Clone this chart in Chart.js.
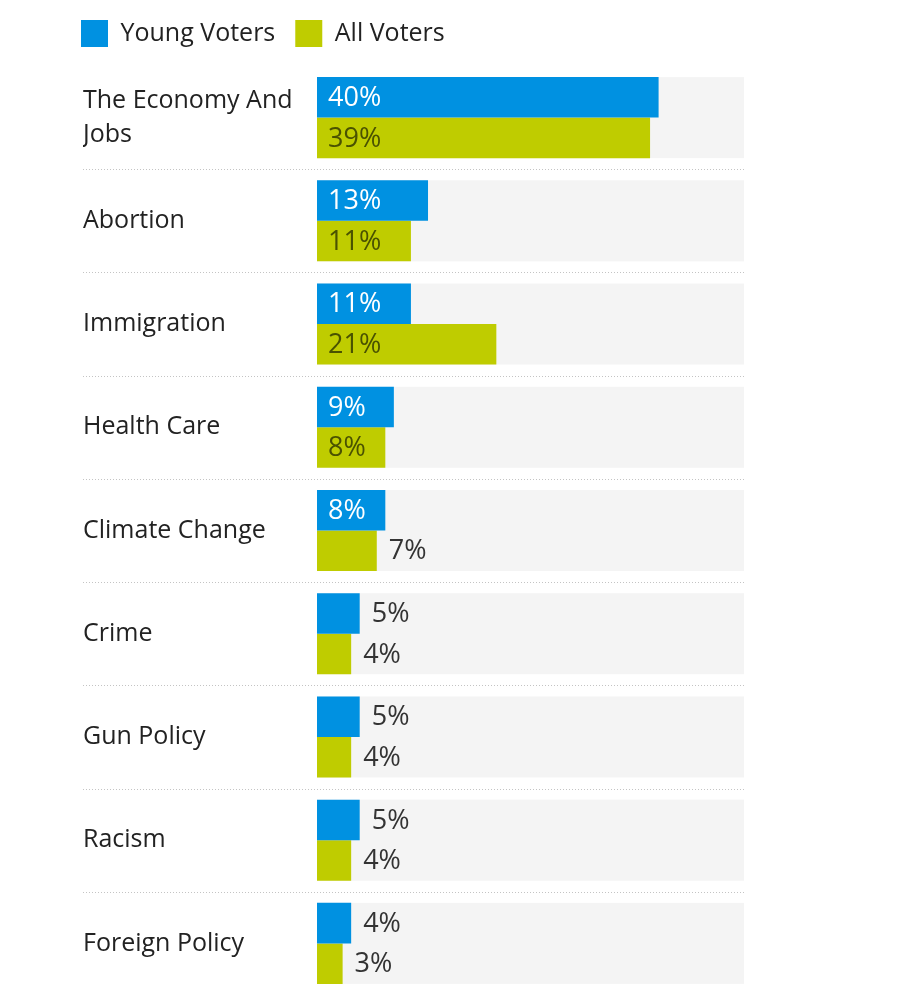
<!DOCTYPE html>
<html>
<head>
<meta charset="utf-8">
<script src="https://cdn.jsdelivr.net/npm/chart.js@4/dist/chart.umd.min.js"></script>
<style>
  html, body { margin: 0; padding: 0; background: #ffffff; }
  #wrap { width: 908px; height: 1000px; position: relative; }
</style>
</head>
<body>
<div id="wrap"><canvas id="c"></canvas></div>
<script>
const categories = [
  ["The Economy And", "Jobs"],
  "Abortion",
  "Immigration",
  "Health Care",
  "Climate Change",
  "Crime",
  "Gun Policy",
  "Racism",
  "Foreign Policy"
];
const seriesNames = ["Young Voters", "All Voters"];
const youngVoters = [40, 13, 11, 9, 8, 5, 5, 5, 4];
const allVoters = [39, 11, 21, 8, 7, 4, 4, 4, 3];
const axisMax = 50;

const BLUE = "#0091e1";
const GREEN = "#bfcc00";
const FONT = "'Open Sans', 'Noto Sans', sans-serif";

const backgroundPlugin = {
  id: "rowBackground",
  beforeDatasetsDraw(chart) {
    const { ctx, scales: { x, y } } = chart;
    const n = y.getLabels().length;
    const band = (y.bottom - y.top) / n;
    const h = band * 0.785;
    ctx.save();
    ctx.fillStyle = "#f4f4f4";
    for (let i = 0; i < n; i++) {
      const cy = y.getPixelForValue(i);
      const x0 = x.getPixelForValue(0);
      const x1 = x.getPixelForValue(axisMax);
      ctx.fillRect(x0, cy - h / 2, x1 - x0, h);
    }
    ctx.strokeStyle = "#c4c4c4";
    ctx.lineWidth = 1;
    ctx.setLineDash([1, 2]);
    for (let i = 0; i < n - 1; i++) {
      const yy = Math.round(y.getPixelForValue(i) + band / 2) + 0.5;
      ctx.beginPath();
      ctx.moveTo(83, yy);
      ctx.lineTo(x.getPixelForValue(axisMax), yy);
      ctx.stroke();
    }
    ctx.restore();
  }
};

const labelPlugin = {
  id: "valueLabels",
  afterDatasetsDraw(chart) {
    const { ctx } = chart;
    ctx.save();
    ctx.font = "27px " + FONT;
    ctx.textBaseline = "middle";
    ctx.textAlign = "left";
    chart.data.datasets.forEach((ds, di) => {
      const meta = chart.getDatasetMeta(di);
      meta.data.forEach((bar, i) => {
        const txt = ds.data[i] + "%";
        const w = ctx.measureText(txt).width;
        const barW = bar.x - bar.base;
        if (w + 24 <= barW) {
          ctx.fillStyle = di === 0 ? "#ffffff" : "#4a5200";
          ctx.fillText(txt, bar.base + 11, bar.y + 1);
        } else {
          ctx.fillStyle = "#333333";
          ctx.fillText(txt, bar.x + 12, bar.y + 1);
        }
      });
    });
    ctx.restore();
  }
};

const layoutPlugin = {
  id: "layoutTweaks",
  beforeUpdate(chart) {
    const lg = chart.legend;
    if (lg && !lg._patched) {
      const origFit = lg.fit;
      lg.fit = function () {
        origFit.call(this);
        this.height = 66;
      };
      lg._patched = true;
    }
  },
  afterLayout(chart) {
    chart.scales.y.left = 83;
  }
};

new Chart(document.getElementById("c"), {
  type: "bar",
  data: {
    labels: categories,
    datasets: [
      { label: seriesNames[0], data: youngVoters, backgroundColor: BLUE, borderWidth: 0 },
      { label: seriesNames[1], data: allVoters, backgroundColor: GREEN, borderWidth: 0 }
    ]
  },
  options: {
    indexAxis: "y",
    responsive: true,
    maintainAspectRatio: false,
    animation: false,
    datasets: { bar: { categoryPercentage: 0.785, barPercentage: 1.0 } },
    layout: { padding: { left: 61, right: 164, top: 0, bottom: 5 } },
    plugins: {
      tooltip: { enabled: false },
      legend: {
        display: true,
        position: "top",
        align: "start",
        labels: {
          boxWidth: 27,
          boxHeight: 27,
          padding: 20,
          color: "#222222",
          font: { family: FONT, size: 25 }
        }
      }
    },
    scales: {
      x: {
        display: false,
        min: 0,
        max: axisMax
      },
      y: {
        grid: { display: false },
        border: { display: false },
        ticks: {
          crossAlign: "far",
          color: "#222222",
          font: { family: FONT, size: 25, lineHeight: 1.35 }
        },
        afterFit(scale) {
          scale.width = 256;
          scale.paddingTop = 0;
          scale.paddingBottom = 0;
        }
      }
    }
  },
  plugins: [backgroundPlugin, labelPlugin, layoutPlugin]
});
</script>
</body>
</html>
